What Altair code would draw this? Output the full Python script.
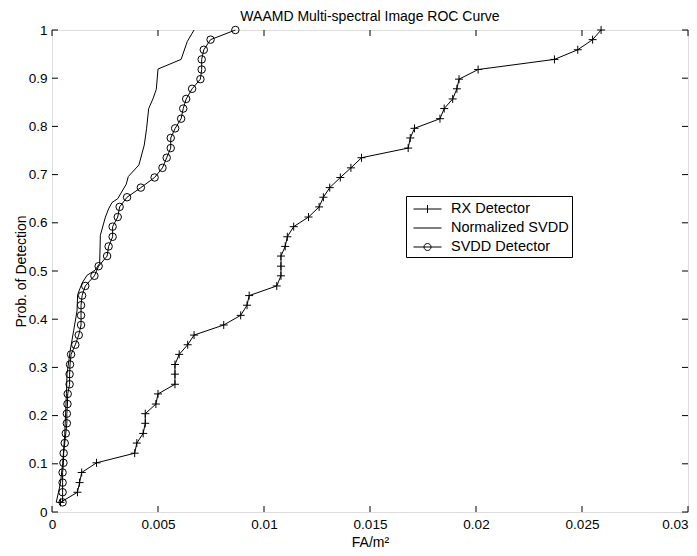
import altair as alt
import pandas as pd

# ---------------- data ----------------
series_names = ["RX Detector", "Normalized SVDD", "SVDD Detector"]

rx_x = [0.0004, 0.0012, 0.0013, 0.0014, 0.0021, 0.0039, 0.0040, 0.0043, 0.0044, 0.0044,
        0.0049, 0.0050, 0.0058, 0.0058, 0.0058, 0.0060, 0.0064, 0.0067, 0.0081, 0.0089,
        0.0092, 0.0093, 0.0106, 0.0108, 0.0108, 0.0108, 0.0110, 0.0111, 0.0114, 0.0121,
        0.0126, 0.0128, 0.0131, 0.0136, 0.0141, 0.0146, 0.0168, 0.0169, 0.0171, 0.0183,
        0.0185, 0.0189, 0.0191, 0.0192, 0.0201, 0.0237, 0.0248, 0.0255, 0.0259]
rx_y = [0.020, 0.041, 0.061, 0.082, 0.102, 0.122, 0.143, 0.163, 0.184, 0.204,
        0.224, 0.245, 0.265, 0.286, 0.306, 0.327, 0.347, 0.367, 0.388, 0.408,
        0.429, 0.449, 0.469, 0.490, 0.510, 0.531, 0.551, 0.571, 0.592, 0.612,
        0.633, 0.653, 0.673, 0.694, 0.714, 0.735, 0.755, 0.776, 0.796, 0.816,
        0.837, 0.857, 0.878, 0.898, 0.918, 0.939, 0.959, 0.980, 1.000]

svdd_x = [0.0005, 0.0005, 0.0005, 0.0005, 0.00054, 0.00055, 0.0006, 0.00065, 0.0007, 0.0007,
          0.00073, 0.00074, 0.00083, 0.00083, 0.00085, 0.0009, 0.0011, 0.00126, 0.00137, 0.00137,
          0.00137, 0.00142, 0.00157, 0.0020, 0.0022, 0.0026, 0.00267, 0.00286, 0.00286, 0.0031,
          0.00319, 0.00354, 0.00419, 0.00484, 0.00521, 0.00541, 0.0056, 0.0056, 0.00581, 0.00609,
          0.00619, 0.00633, 0.00661, 0.0070, 0.00706, 0.00706, 0.00716, 0.00748, 0.00865]
svdd_y = [0.020, 0.041, 0.061, 0.082, 0.102, 0.122, 0.143, 0.163, 0.184, 0.204,
          0.224, 0.245, 0.265, 0.286, 0.306, 0.327, 0.347, 0.367, 0.388, 0.408,
          0.429, 0.449, 0.469, 0.490, 0.510, 0.531, 0.551, 0.571, 0.592, 0.612,
          0.633, 0.653, 0.673, 0.694, 0.714, 0.735, 0.755, 0.776, 0.796, 0.816,
          0.837, 0.857, 0.878, 0.898, 0.918, 0.939, 0.959, 0.980, 1.000]

nsvdd_x = [0.0002, 0.0003, 0.0004, 0.0005, 0.0006, 0.00068, 0.00071, 0.00086, 0.00102, 0.00118,
           0.00121, 0.00142, 0.00165, 0.00204, 0.00225, 0.00228, 0.00252, 0.00267, 0.00283, 0.0031,
           0.0035, 0.0036, 0.0041, 0.00435, 0.00446, 0.00456, 0.00476, 0.00492, 0.0050, 0.00609,
           0.00638, 0.0067]
nsvdd_y = [0.020, 0.040, 0.060, 0.100, 0.160, 0.246, 0.287, 0.335, 0.376, 0.417,
           0.451, 0.475, 0.491, 0.502, 0.516, 0.574, 0.612, 0.629, 0.642, 0.650,
           0.680, 0.696, 0.720, 0.761, 0.795, 0.837, 0.857, 0.877, 0.919, 0.939,
           0.976, 1.000]

x_ticks = [0, 0.005, 0.01, 0.015, 0.02, 0.025, 0.03]
y_ticks = [0, 0.1, 0.2, 0.3, 0.4, 0.5, 0.6, 0.7, 0.8, 0.9, 1]

# ---------------- tables ----------------
rows = []
for name, xs, ys in [("RX Detector", rx_x, rx_y),
                     ("Normalized SVDD", nsvdd_x, nsvdd_y),
                     ("SVDD Detector", svdd_x, svdd_y)]:
    for i, (a, b) in enumerate(zip(xs, ys)):
        rows.append({"series": name, "x": a, "y": b, "i": i})
df = pd.DataFrame(rows)
xt_df = pd.DataFrame({"t": x_ticks})
yt_df = pd.DataFrame({"t": y_ticks})

# ---------------- styling ----------------
W, H = 636, 482
FONT = "Liberation Sans"
TL = 6  # tick length

xscale = alt.Scale(domain=[0, 0.03], nice=False, zero=False)
yscale = alt.Scale(domain=[0, 1], nice=False, zero=False)

xaxis = alt.Axis(values=x_ticks, format="~g", title="FA/m²", grid=False, ticks=False,
                 domain=False, labelPadding=5, labelFontSize=13.5, labelOverlap=False,
                 labelBound=False,
                 labelAlign=alt.condition("datum.value >= 0.03", alt.value("right"),
                                          alt.value("center")),
                 titleFontSize=14, titleFontWeight="normal",
                 titleY=30, titleBaseline="middle")
yaxis = alt.Axis(values=y_ticks, format="~g", title="Prob. of Detection", grid=False,
                 ticks=False, domain=False, labelPadding=5, labelFontSize=13.5,
                 labelOverlap=False, labelBound=False, titleFontSize=14,
                 titleFontWeight="normal", titleX=-31, titleY=H / 2,
                 titleBaseline="middle", titleAlign="center", titleAngle=270)

X = alt.X("x:Q", scale=xscale, axis=xaxis)
Y = alt.Y("y:Q", scale=yscale, axis=yaxis)

plus_path = "M-1,0H1M0,-1V1"
leg_paths = [
    "M-0.58,0H2.37M0.895,-0.42V0.42",
    "M-0.58,0H2.37",
    "M-0.58,0H2.37M1.265,0A0.37,0.37,0,1,1,0.525,0A0.37,0.37,0,1,1,1.265,0",
]

lines = alt.Chart(df).mark_line(color="black", strokeWidth=1).encode(
    x=X, y=Y, detail="series:N", order="i:Q")

rx_pts = alt.Chart(df).transform_filter(alt.datum.series == "RX Detector").mark_point(
    shape=plus_path, size=64, filled=False, color="black", strokeWidth=1, opacity=1
).encode(x=X, y=Y)

svdd_pts = alt.Chart(df).transform_filter(alt.datum.series == "SVDD Detector").mark_point(
    shape="circle", size=56, filled=False, color="black", strokeWidth=1, opacity=1
).encode(x=X, y=Y)

legend_layer = alt.Chart(df).transform_filter("datum.y > 2").mark_point(
    filled=False, color="black", strokeWidth=1, opacity=1
).encode(
    x=X, y=Y,
    shape=alt.Shape("series:N",
                    scale=alt.Scale(domain=series_names, range=leg_paths),
                    legend=alt.Legend(orient="none", legendX=354, legendY=166, title=None,
                                      padding=3, rowPadding=2, symbolSize=361,
                                      symbolStrokeWidth=1, symbolStrokeColor="black",
                                      symbolFillColor="transparent", symbolOpacity=1,
                                      labelFont=FONT, labelFontSize=14.5, labelColor="black",
                                      labelOffset=22, labelExpr="datum.label + '  '",
                                      strokeColor="black", fillColor="white",
                                      cornerRadius=0)))

XT = alt.X("t:Q", scale=xscale, axis=xaxis)
YT = alt.Y("t:Q", scale=yscale, axis=yaxis)
tick_b = alt.Chart(xt_df).mark_rule(color="black", strokeWidth=1).encode(
    x=XT, y=alt.value(H), y2=alt.value(H - TL))
tick_t = alt.Chart(xt_df).mark_rule(color="black", strokeWidth=1).encode(
    x=XT, y=alt.value(0), y2=alt.value(TL))
tick_l = alt.Chart(yt_df).mark_rule(color="black", strokeWidth=1).encode(
    y=YT, x=alt.value(0), x2=alt.value(TL))
tick_r = alt.Chart(yt_df).mark_rule(color="black", strokeWidth=1).encode(
    y=YT, x=alt.value(W), x2=alt.value(W - TL))

chart = alt.layer(
    tick_b, tick_t, tick_l, tick_r, lines, rx_pts, svdd_pts, legend_layer
).properties(
    width=W, height=H,
    title=alt.TitleParams("WAAMD Multi-spectral Image ROC Curve", fontSize=14,
                          fontWeight="normal", font=FONT, color="black", offset=5,
                          dy=6, anchor="middle", frame="group"),
    padding={"left": 44, "top": 22, "right": 1, "bottom": 36},
    autosize=alt.AutoSizeParams(type="none"),
).configure_view(
    stroke="black", strokeWidth=1
).configure_axis(
    labelFont=FONT, titleFont=FONT, labelColor="black", titleColor="black"
).configure(background="white")

chart.save("out.html", embed_options={"renderer": "svg", "actions": False})
